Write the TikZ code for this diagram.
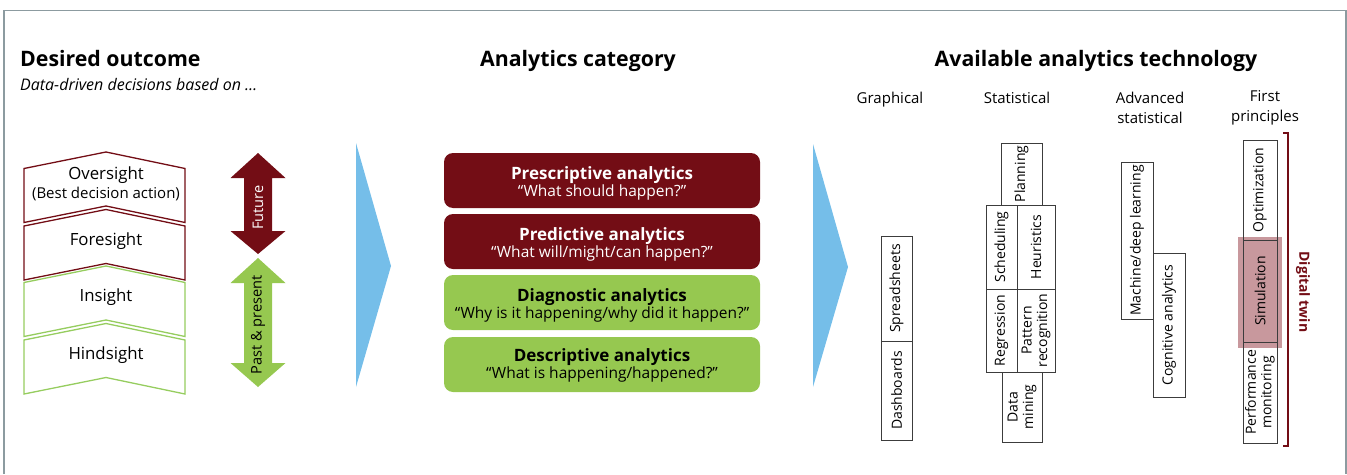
\documentclass[tikz,border=0pt]{standalone}
\usepackage{fontspec}
\setmainfont{Open Sans}
\definecolor{dred}{RGB}{115,13,21}
\definecolor{agreen}{RGB}{150,200,80}
\definecolor{lgreen}{RGB}{150,205,95}
\definecolor{ablue}{RGB}{117,190,233}
\definecolor{framegray}{RGB}{140,155,160}
\definecolor{simpink}{RGB}{200,152,157}
\definecolor{boxline}{RGB}{60,60,60}
\newcommand\cattl[1]{{\fontsize{17}{22}\selectfont\bfseries #1}}
\newcommand\catsb[1]{{\fontsize{15.5}{20}\selectfont #1}}
\begin{document}
\begin{tikzpicture}[x=1pt,y=-1pt,
  heading/.style={inner sep=0pt,font=\fontsize{21.3}{25}\selectfont\bfseries},
  collabel/.style={inner sep=0pt,align=center,font=\fontsize{15}{20}\selectfont},
  chevtext/.style={inner sep=0pt,align=center,font=\fontsize{16.8}{19}\selectfont},
  chevred/.style={draw=dred,line width=1.3pt,fill=white},
  chevgreen/.style={draw=lgreen,line width=1.3pt,fill=white},
  arrowtext/.style={inner sep=0pt,rotate=90,font=\fontsize{14.6}{18}\selectfont},
  catbox/.style={rounded corners=9pt,minimum width=316pt,minimum height=55pt,
    inner sep=0pt},
  cattext/.style={inner sep=0pt,align=center},
  techbox/.style={draw=boxline,line width=0.9pt,rotate=90,inner sep=0pt,
    align=center,font=\fontsize{14}{15.5}\selectfont},
]
\useasboundingbox (0,0) rectangle (1347,474);

% outer frame, open at the bottom
\draw[framegray,line width=1.5pt] (4,474) -- (4,10.5) -- (1346,10.5) -- (1346,474);

% headings
\node[heading,anchor=base west] (hout) at (20,66) {Desired outcome};
\node[inner sep=0pt,anchor=base west,font=\fontsize{16}{18}\selectfont\itshape]
  (hsub) at (20,90) {Data-driven decisions based on \ldots};
\node[heading,anchor=base] (hcat) at (578,66) {Analytics category};
\node[heading,anchor=base] (htech) at (1096,66) {Available analytics technology};

% technology column labels
\node[collabel,anchor=base] (cgraph) at (890,103) {Graphical};
\node[collabel,anchor=base] (cstat) at (1017,103) {Statistical};
\node[collabel] (cadv) at (1150,108) {Advanced\\statistical};
\node[collabel] (cfirst) at (1265,108) {First\\principles};

% desired outcome chevrons
\foreach \t/\sty/\nm/\txt in {168.5/chevred/over/{Oversight\\{\fontsize{15}{19}\selectfont(Best decision action)}},
                              226/chevred/fore/Foresight,
                              282.5/chevgreen/ins/Insight,
                              340/chevgreen/hind/Hindsight}{
  \draw[\sty] (24,\t) -- (106,\t-16.5) -- (185,\t) -- (185,\t+54)
    -- (106,\t+37.5) -- (24,\t+54) -- cycle;
  \node[chevtext] (\nm) at (106,\t+15) {\txt};
}

% time-horizon double arrows
\fill[dred] (258,153) -- (285.5,178) -- (272,178) -- (272,231) -- (285.5,231)
  -- (258,254) -- (230.5,231) -- (244,231) -- (244,178) -- (230.5,178) -- cycle;
\node[arrowtext,text=white] (future) at (258,207.5) {Future};
\fill[agreen] (258,258) -- (285.5,283) -- (272,283) -- (272,363) -- (285.5,363)
  -- (258,387) -- (230.5,363) -- (244,363) -- (244,283) -- (230.5,283) -- cycle;
\node[arrowtext,text=black] (past) at (258,325) {Past \& present};

% blue transition chevrons
\fill[ablue] (356,143) -- (391,266) -- (356,387) -- cycle;
\fill[ablue] (813,144) -- (848,267) -- (813,387) -- cycle;

% analytics categories: box, then its two-line caption a little below centre
\node[catbox,fill=dred] (presc) at (602,180.5) {};
\node[cattext,text=white] (presct) at ([yshift=-3pt]presc.center)
  {\cattl{Prescriptive analytics}\\\catsb{“What should happen?”}};
\node[catbox,fill=dred] (pred) at (602,241.5) {};
\node[cattext,text=white] (predt) at ([yshift=-3pt]pred.center)
  {\cattl{Predictive analytics}\\\catsb{“What will/might/can happen?”}};
\node[catbox,fill=agreen] (diag) at (602,302.5) {};
\node[cattext,text=black] (diagt) at ([yshift=-3pt]diag.center)
  {\cattl{Diagnostic analytics}\\\catsb{“Why is it happening/why did it happen?”}};
\node[catbox,fill=agreen] (desc) at (602,364.5) {};
\node[cattext,text=black] (desct) at ([yshift=-1pt]desc.center)
  {\cattl{Descriptive analytics}\\\catsb{“What is happening/happened?”}};

% graphical
\node[techbox,minimum width=105pt,minimum height=31pt] (spread) at (896.5,288.5) {Spreadsheets};
\node[techbox,minimum width=99pt,minimum height=31pt] (dashb) at (896.5,390.5) {Dashboards};

% statistical
\node[techbox,minimum width=62pt,minimum height=41pt] (plan) at (1021.5,174) {Planning};
\node[techbox,minimum width=84pt,minimum height=31pt] (sched) at (1001.5,247) {Scheduling};
\node[techbox,minimum width=84pt,minimum height=38pt] (heur) at (1036,247) {Heuristics};
\node[techbox,minimum width=83pt,minimum height=31pt] (regr) at (1001.5,330.5) {Regression};
\node[techbox,minimum width=83pt,minimum height=38pt] (patt) at (1036,330.5) {Pattern\\recognition};
\node[techbox,minimum width=70pt,minimum height=40pt] (dmin) at (1022,407) {Data\\mining};

% advanced statistical
\node[techbox,minimum width=157pt,minimum height=32pt] (mldl) at (1137,240.5) {Machine/deep learning};
\node[techbox,minimum width=144pt,minimum height=32pt] (cogn) at (1169,325) {Cognitive analytics};

% first principles
\fill[simpink] (1238,237) rectangle (1282,348);
\node[techbox,minimum width=100pt,minimum height=34pt] (optim) at (1260,190) {Optimization};
\node[techbox,minimum width=102pt,minimum height=34pt] (simul) at (1260,291) {Simulation};
\node[techbox,minimum width=101pt,minimum height=34pt] (perf) at (1260,392.5) {Performance\\monitoring};

% digital twin bracket
\draw[dred,line width=1.5pt] (1283,133) -- (1288,133) -- (1288,446) -- (1283,446);
\node[inner sep=0pt,rotate=-90,text=dred,font=\fontsize{14}{16}\selectfont\bfseries]
  (dtwin) at (1303,292) {Digital twin};
\end{tikzpicture}
\end{document}
